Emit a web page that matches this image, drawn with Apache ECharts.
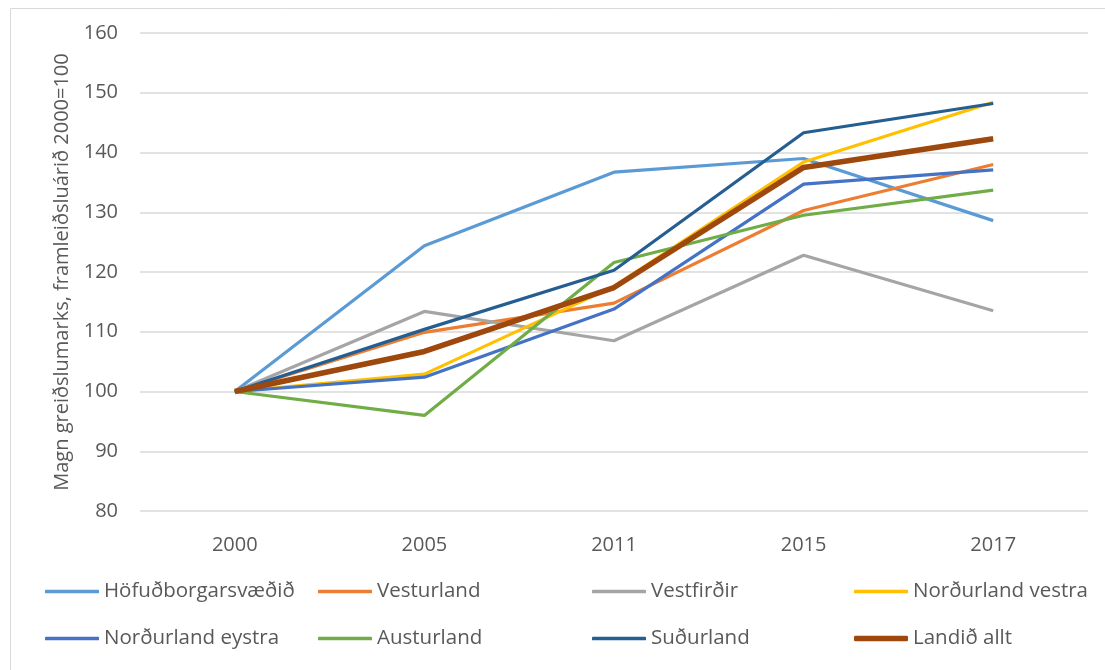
<!DOCTYPE html>
<html>
<head>
<meta charset="utf-8">
<script src="https://cdn.jsdelivr.net/npm/echarts@6/dist/echarts.min.js"></script>
<style>html,body{margin:0;padding:0;background:#fff}#c{width:1105px;height:670px}</style>
</head>
<body>
<div id="c"></div>
<script>
const categories = ['2000', '2005', '2011', '2015', '2017'];
const seriesNames = ['Höfuðborgarsvæðið', 'Vesturland', 'Vestfirðir', 'Norðurland vestra', 'Norðurland eystra', 'Austurland', 'Suðurland', 'Landið allt'];
const hofudborg = [100, 124.4, 136.7, 139.0, 128.6];
const vesturland = [100, 109.9, 114.8, 130.3, 138.0];
const vestfirdir = [100, 113.4, 108.5, 122.8, 113.5];
const nordVestra = [100, 102.9, 117.6, 138.4, 148.4];
const nordEystra = [100, 102.4, 113.8, 134.7, 137.1];
const austurland = [100, 96.0, 121.6, 129.5, 133.7];
const sudurland = [100, 110.4, 120.3, 143.3, 148.2];
const landidAllt = [100, 106.7, 117.4, 137.5, 142.3];
const seriesData = [hofudborg, vesturland, vestfirdir, nordVestra, nordEystra, austurland, sudurland, landidAllt];
const colors = ['#5B9BD5', '#ED7D31', '#A5A5A5', '#FFC000', '#4472C4', '#70AD47', '#255E91', '#9E480E'];
const widths = [3.2, 3.2, 3.2, 3.2, 3.2, 3.2, 3.2, 5.5];
const yTicks = [80, 90, 100, 110, 120, 130, 140, 150, 160];

const FONT = 'Open Sans';
const chart = echarts.init(document.getElementById('c'));
const legendLefts = [45, 318, 592, 854];
const legendTops = [581, 628];
const legends = seriesNames.map((n, i) => ({
  left: legendLefts[i % 4],
  top: legendTops[Math.floor(i / 4)],
  padding: 0,
  icon: 'roundRect',
  itemWidth: 54,
  itemHeight: i === 7 ? 5.5 : 3.5,
  itemTextGap: 4,
  data: [n],
  textStyle: { fontFamily: FONT, fontSize: 20.5, color: '#595959' }
}));
chart.setOption({
  animation: false,
  backgroundColor: '#fff',
  graphic: [{
    type: 'rect', left: 8, top: 6, shape: { width: 1200, height: 800 },
    style: { fill: 'none', stroke: '#d9d9d9', lineWidth: 1 }, silent: true
  }],
  grid: { left: 140, right: 17, top: 33, bottom: 159 },
  legend: legends,
  xAxis: {
    type: 'category',
    data: categories,
    boundaryGap: true,
    axisLine: { show: false },
    axisTick: { show: false },
    axisLabel: { fontFamily: FONT, fontSize: 20, color: '#595959', margin: 24 }
  },
  yAxis: {
    type: 'value',
    min: yTicks[0],
    max: yTicks[yTicks.length - 1],
    interval: 10,
    name: 'Magn greiðslumarks, framleiðsluárið 2000=100',
    nameLocation: 'middle',
    nameGap: 68,
    nameTextStyle: { fontFamily: FONT, fontSize: 20, color: '#595959' },
    axisLine: { show: false },
    axisTick: { show: false },
    splitLine: { lineStyle: { color: '#d9d9d9', width: 1.5 } },
    axisLabel: { fontFamily: FONT, fontSize: 20, color: '#595959', margin: 22 }
  },
  series: seriesNames.map((n, i) => ({
    name: n,
    type: 'line',
    data: seriesData[i],
    symbol: 'none',
    color: colors[i],
    lineStyle: { color: colors[i], width: widths[i] },
    z: i === 7 ? 10 : 2
  }))
});
</script>
</body>
</html>
